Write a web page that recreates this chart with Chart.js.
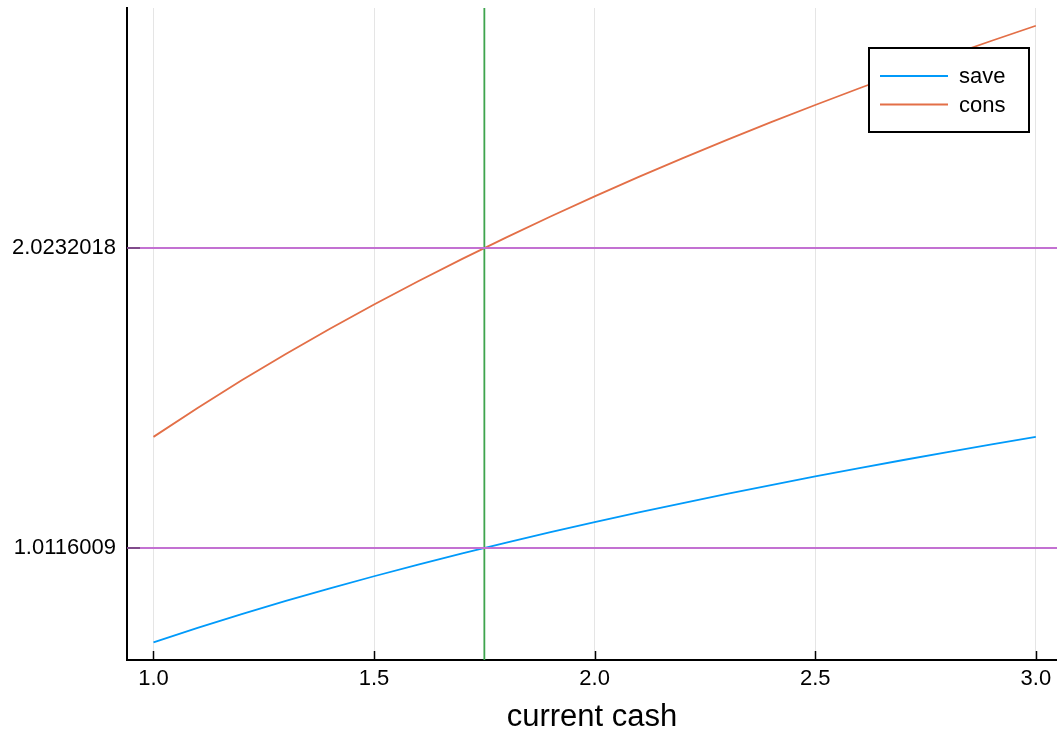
<!DOCTYPE html>
<html>
<head>
<meta charset="utf-8">
<script src="https://cdn.jsdelivr.net/npm/chart.js@4/dist/chart.umd.min.js"></script>
<style>
  html, body { margin: 0; padding: 0; background: #ffffff; }
  #wrap { width: 1057px; height: 736px; position: relative; }
</style>
</head>
<body>
<div id="wrap"><canvas id="c" width="1057" height="736"></canvas></div>
<script>
// current cash grid and the two policy curves evaluated on it
const cash = [1.0, 1.1, 1.2, 1.3, 1.4, 1.5, 1.6, 1.7, 1.8, 1.9, 2.0,
              2.1, 2.2, 2.3, 2.4, 2.5, 2.6, 2.7, 2.8, 2.9, 3.0];
const saveValues = [0.6931, 0.7419, 0.7885, 0.8329, 0.8755, 0.9163, 0.9555, 0.9933, 1.0296, 1.0647, 1.0986,
                    1.1314, 1.1632, 1.1939, 1.2238, 1.2528, 1.2809, 1.3083, 1.3350, 1.3610, 1.3863];
const consValues = [1.3863, 1.4838, 1.5769, 1.6658, 1.7509, 1.8326, 1.9110, 1.9865, 2.0592, 2.1294, 2.1972,
                    2.2628, 2.3263, 2.3878, 2.4476, 2.5055, 2.5619, 2.6167, 2.6700, 2.7220, 2.7726];

// reference markers: vertical at the chosen cash level, horizontals at the two curve values there
const markerCash = [1.75];
const markerLevels = [1.0116009, 2.0232018];
const markerLabels = ['1.0116009', '2.0232018'];

// axis ticks
const xTicks = [1.0, 1.5, 2.0, 2.5, 3.0];
const xTickLabels = ['1.0', '1.5', '2.0', '2.5', '3.0'];

const X_MIN = 0.94, X_MAX = 3.048;
const Y_MIN = 0.6339, Y_MAX = 2.8325;

const BLUE = 'rgb(0,154,250)';
const ORANGE = 'rgb(227,111,71)';
const GREEN = 'rgb(62,164,78)';
const PURPLE = 'rgb(195,113,210)';
const FONT = '"Liberation Sans", Arial, Helvetica, sans-serif';

const pts = (xs, ys) => xs.map((x, i) => ({ x: x, y: ys[i] }));

const datasets = [
  { label: 'save', data: pts(cash, saveValues), borderColor: BLUE, borderWidth: 1.8, order: 4, inLegend: true },
  { label: 'cons', data: pts(cash, consValues), borderColor: ORANGE, borderWidth: 1.8, order: 3, inLegend: true },
  { label: 'vline', data: [{ x: markerCash[0], y: Y_MIN }, { x: markerCash[0], y: Y_MAX }], borderColor: GREEN, borderWidth: 1.8, order: 2 }
];
markerLevels.forEach((lv, i) => {
  datasets.push({ label: 'hline' + i, data: [{ x: X_MIN, y: lv }, { x: X_MAX, y: lv }], borderColor: PURPLE, borderWidth: 1.8, order: 1 });
});
datasets.forEach(d => { d.pointRadius = 0; d.fill = false; d.tension = 0; });

// inward tick marks
const innerTicks = {
  id: 'innerTicks',
  afterDatasetsDraw(chart) {
    const { ctx, chartArea, scales } = chart;
    ctx.save();
    ctx.lineWidth = 1.5;
    ctx.strokeStyle = '#000';
    xTicks.forEach(v => {
      const px = Math.round(scales.x.getPixelForValue(v)) + 0.5;
      ctx.beginPath();
      ctx.moveTo(px, chartArea.bottom);
      ctx.lineTo(px, chartArea.bottom - 9);
      ctx.stroke();
    });
    ctx.strokeStyle = 'rgba(0,0,0,0.45)';
    markerLevels.forEach(v => {
      const py = scales.y.getPixelForValue(v);
      ctx.beginPath();
      ctx.moveTo(chartArea.left, py);
      ctx.lineTo(chartArea.left + 13, py);
      ctx.stroke();
    });
    ctx.restore();
  }
};

// framed legend in the upper right corner
const boxLegend = {
  id: 'boxLegend',
  afterDraw(chart) {
    const { ctx } = chart;
    const items = chart.data.datasets.filter(d => d.inLegend);
    const bx = 869, by = 48, bw = 160, bh = 84;
    ctx.save();
    ctx.fillStyle = '#fff';
    ctx.fillRect(bx, by, bw, bh);
    ctx.strokeStyle = '#000';
    ctx.lineWidth = 2;
    ctx.strokeRect(bx, by, bw, bh);
    ctx.font = '22px ' + FONT;
    ctx.textBaseline = 'middle';
    ctx.textAlign = 'left';
    items.forEach((d, i) => {
      const y = 76 + i * 28.5;
      ctx.strokeStyle = d.borderColor;
      ctx.lineWidth = 1.8;
      ctx.beginPath();
      ctx.moveTo(880, y);
      ctx.lineTo(948, y);
      ctx.stroke();
      ctx.fillStyle = '#000';
      ctx.fillText(d.label, 959, y + 1);
    });
    ctx.restore();
  }
};

new Chart(document.getElementById('c'), {
  type: 'line',
  data: { datasets: datasets },
  options: {
    responsive: false,
    animation: false,
    devicePixelRatio: 1,
    layout: { autoPadding: false, padding: { top: 8, right: 0, left: 0, bottom: 0 } },
    plugins: { legend: { display: false }, tooltip: { enabled: false } },
    scales: {
      x: {
        type: 'linear',
        min: X_MIN,
        max: X_MAX,
        afterBuildTicks: s => { s.ticks = xTicks.map(v => ({ value: v })); },
        afterFit: s => { s.height = 76; s.paddingLeft = 0; s.paddingRight = 0; },
        ticks: {
          callback: (v) => xTickLabels[xTicks.indexOf(v)],
          color: '#000',
          font: { family: FONT, size: 22 },
          padding: 6,
          maxRotation: 0,
          autoSkip: false
        },
        grid: { color: 'rgba(0,0,0,0.1)', lineWidth: 1, drawTicks: false },
        border: { color: '#000', width: 2 },
        title: {
          display: true,
          text: 'current cash',
          color: '#000',
          font: { family: FONT, size: 31 },
          padding: { top: 0, bottom: 0 }
        }
      },
      y: {
        type: 'linear',
        min: Y_MIN,
        max: Y_MAX,
        afterBuildTicks: s => { s.ticks = markerLevels.map(v => ({ value: v })); },
        afterFit: s => { s.width = 127; s.paddingTop = 0; s.paddingBottom = 0; },
        ticks: {
          callback: (v) => markerLabels[markerLevels.indexOf(v)],
          color: '#000',
          font: { family: FONT, size: 22 },
          padding: 11,
          autoSkip: false
        },
        grid: { display: false, drawTicks: false },
        border: { color: '#000', width: 2 }
      }
    }
  },
  plugins: [innerTicks, boxLegend]
});
</script>
</body>
</html>
